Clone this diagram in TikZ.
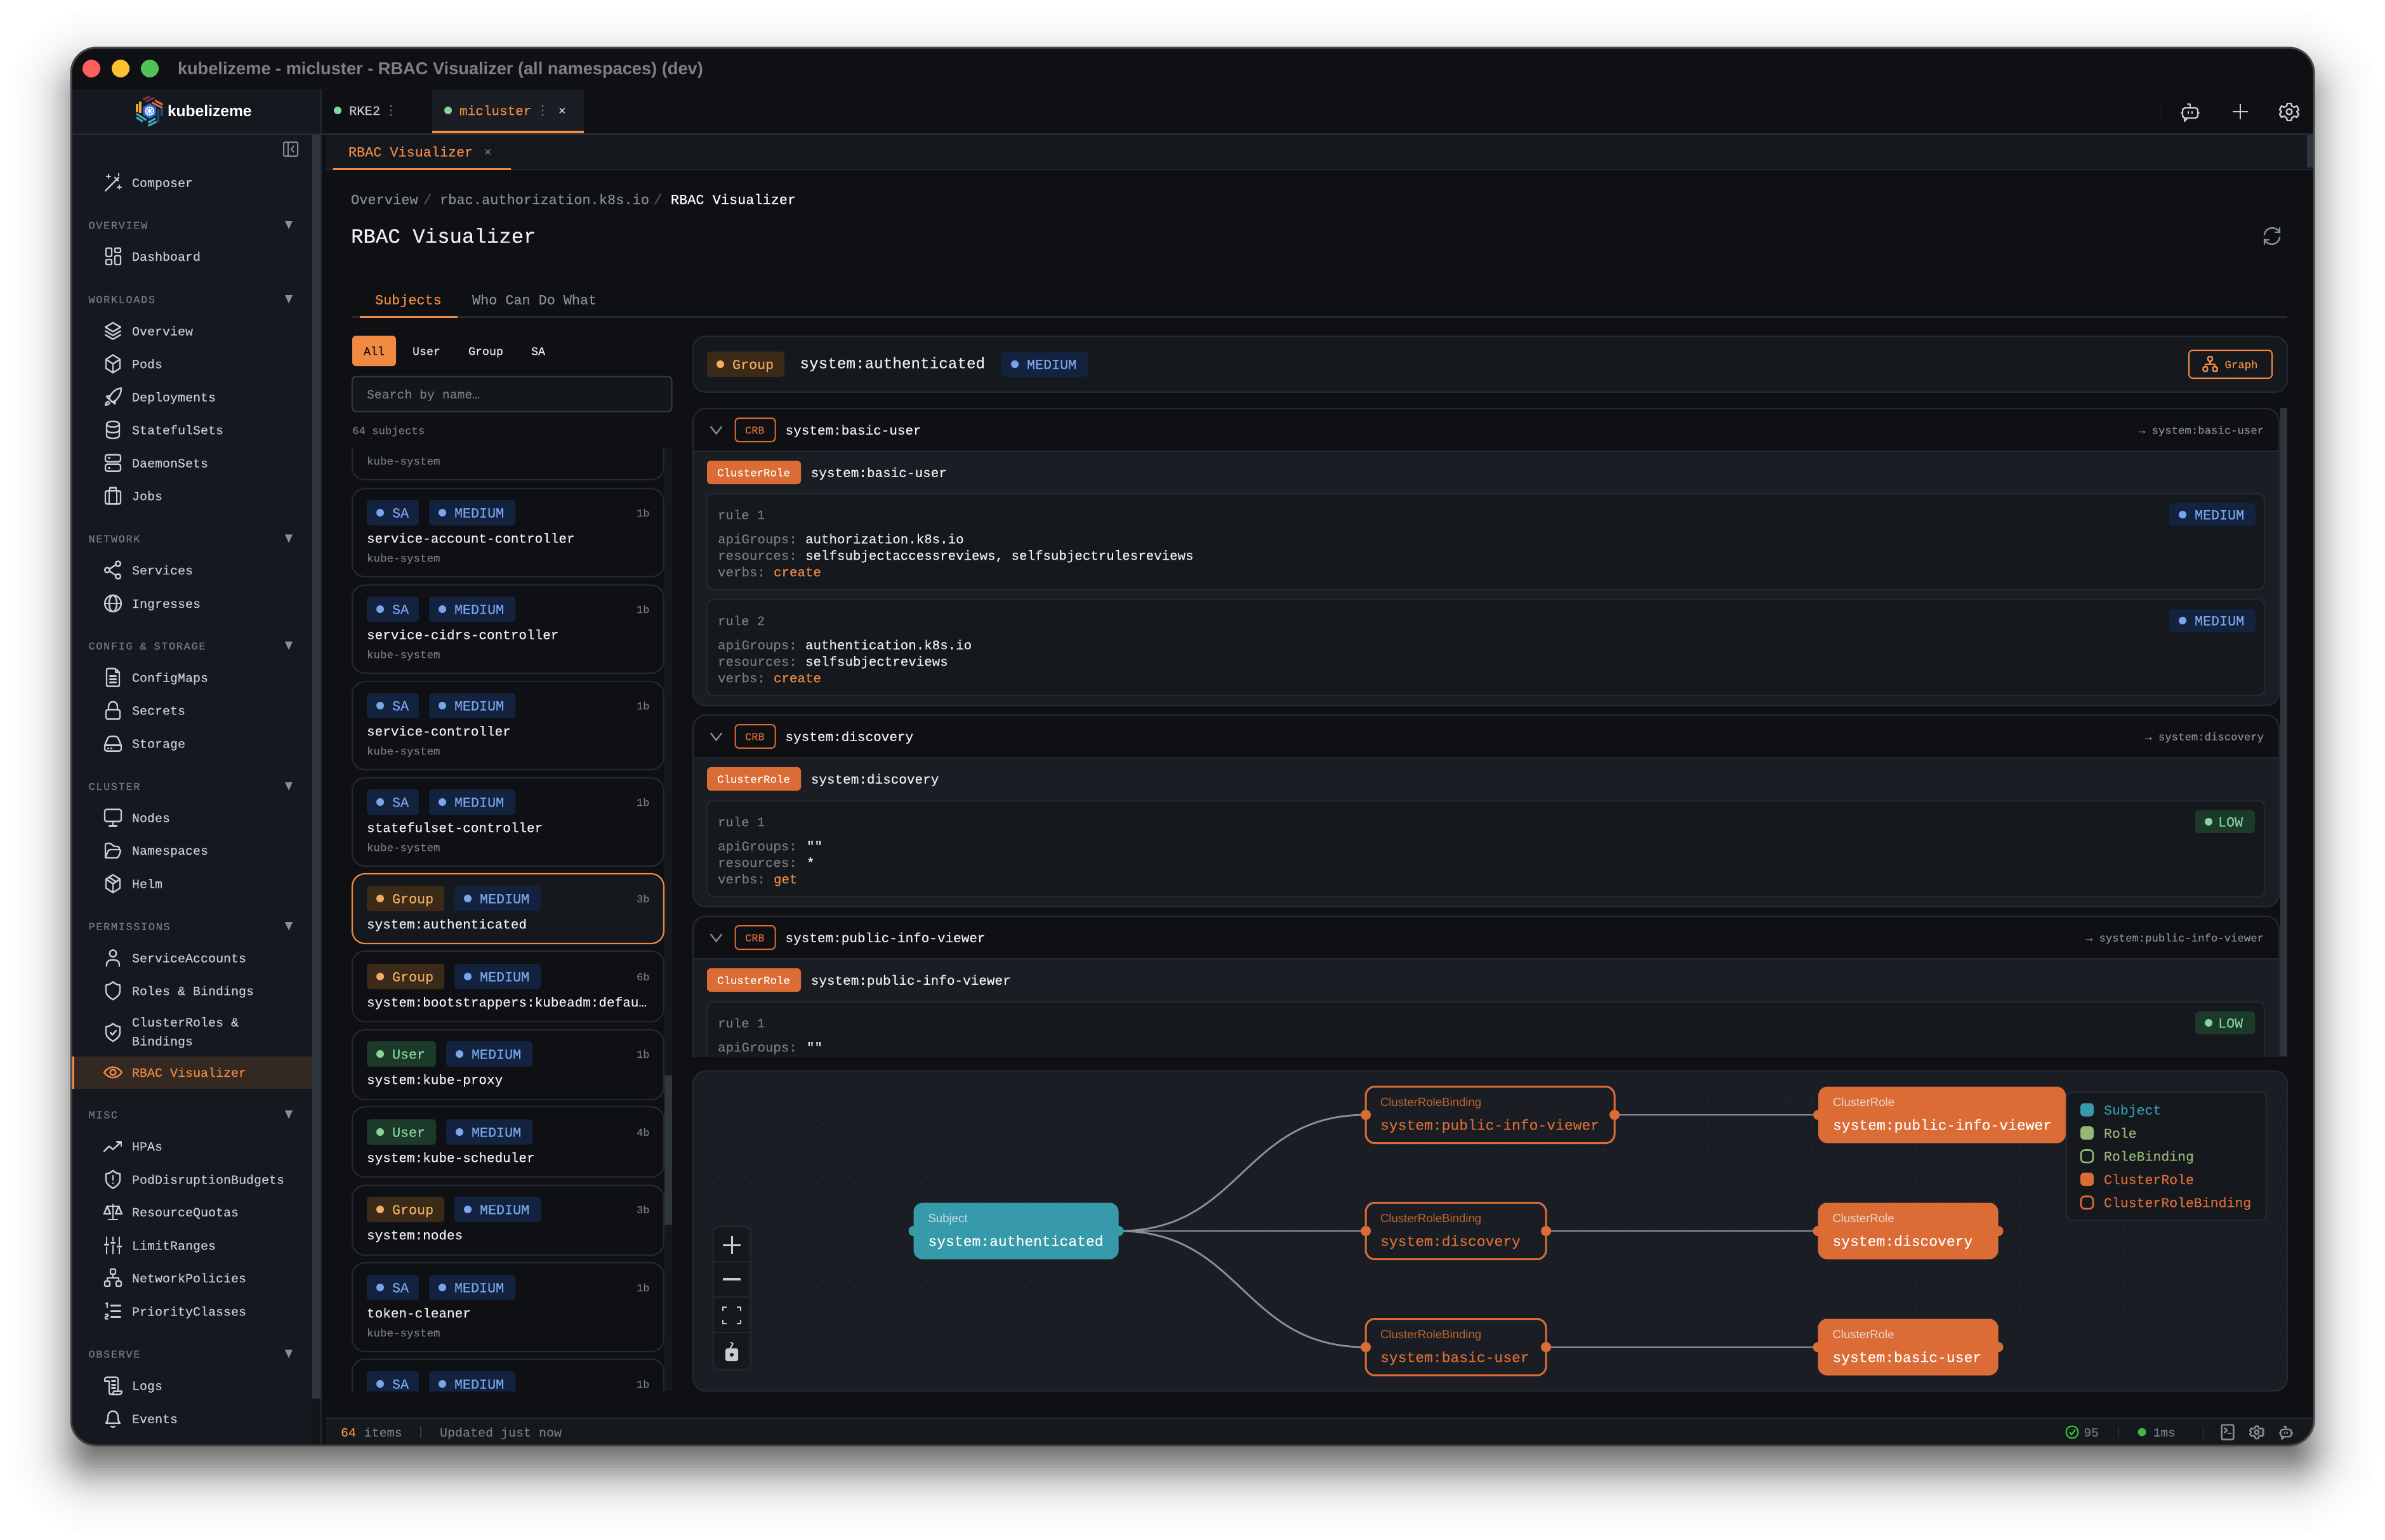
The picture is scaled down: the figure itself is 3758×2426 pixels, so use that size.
\documentclass[tikz,border=0pt]{standalone}
\usepackage{fontspec}
\setmainfont{Liberation Sans}
\newfontfamily\mono[FakeBold=0.07]{Liberation Mono}
\newfontfamily\monoM[FakeBold=0.18]{Liberation Mono}
\newfontfamily\monoS[LetterSpace=9.4,FakeBold=0.15]{Liberation Mono}
\definecolor{bgmain}{HTML}{0E1014}
\definecolor{side}{HTML}{15181E}
\definecolor{panel}{HTML}{15181D}
\definecolor{body}{HTML}{1A1E24}
\definecolor{linec}{HTML}{24282F}
\definecolor{track}{HTML}{2F363D}
\definecolor{txt}{HTML}{C9CDD3}
\definecolor{wht}{HTML}{EEF0F2}
\definecolor{gry}{HTML}{767B83}
\definecolor{gry2}{HTML}{8A8F96}
\definecolor{org}{HTML}{F08A42}
\definecolor{cro}{HTML}{DC6C36}
\definecolor{crl}{HTML}{B8632F}
\definecolor{teal}{HTML}{369AAB}
\definecolor{grn}{HTML}{96B874}
\definecolor{blu}{HTML}{79A5EA}
\definecolor{blubg}{HTML}{13233F}
\definecolor{grpfg}{HTML}{F2AD63}
\definecolor{grpbg}{HTML}{3B2A17}
\definecolor{usrfg}{HTML}{85D4A0}
\definecolor{usrbg}{HTML}{1C3A2A}
\definecolor{edgec}{HTML}{8A8F98}
\newcount\nn
\newcommand\TX[7]{\global\advance\nn by 1\relax
  \pgfmathsetmacro\fz{#5*0.5}\pgfmathsetmacro\bl{#4+0.3*#5+1}%
  \node[anchor=base west,inner sep=0pt,outer sep=0pt,text=#6,font={\fontsize{\fz pt}{\fz pt}\selectfont #1},#2] (tx\the\nn) at (#3,\bl) {#7};}
\newcommand\T[6][]{\TX{\mono}{#1}{#2}{#3}{#4}{#5}{#6}}
\newcommand\TM[6][]{\TX{\monoM}{#1}{#2}{#3}{#4}{#5}{#6}}
\newcommand\RR[6][]{\draw[rounded corners=#6*0.5pt,#1] (#2,#3) rectangle (#4,#5);}
\newcommand\FR[6][]{\fill[rounded corners=#6*0.5pt,#1] (#2,#3) rectangle (#4,#5);}
% pill: [h] x1 x2 cy bg fg text
\newcommand\Pill[8][40]{\pgfmathsetmacro\pa{#4-#1/2}\pgfmathsetmacro\pb{#4+#1/2}%
  \FR[fill=#5]{#2}{\pa}{#3}{\pb}{5}%
  \pgfmathsetmacro\pc{#2+21}\fill[#6] (\pc,#4) circle (6);%
  \pgfmathsetmacro\pd{#2+#7}\TM{\pd}{#4}{21.7}{#6}{#8}}
\newcommand\pSA[3][40]{\pgfmathsetmacro\qq{#2+82}\Pill[#1]{#2}{\qq}{#3}{blubg}{blu}{40}{SA}}
\newcommand\pMED[3][40]{\pgfmathsetmacro\qq{#2+136}\Pill[#1]{#2}{\qq}{#3}{blubg}{blu}{40}{MEDIUM}}
\newcommand\pGRP[3][40]{\pgfmathsetmacro\qq{#2+122}\Pill[#1]{#2}{\qq}{#3}{grpbg}{grpfg}{40}{Group}}
\newcommand\pUSR[3][40]{\pgfmathsetmacro\qq{#2+109}\Pill[#1]{#2}{\qq}{#3}{usrbg}{usrfg}{40}{User}}
\newcommand\pLOW[3][36]{\pgfmathsetmacro\qq{#2+94}\Pill[#1]{#2}{\qq}{#3}{usrbg}{usrfg}{36}{LOW}}
% card: top bottom badgeoffs kind name ns count
\newcommand\Card[7]{\RR[fill=bgmain,draw=linec,line width=1.1pt]{555}{#1}{1046}{#2}{20}%
  \pgfmathsetmacro\cy{#1+#3}\pgfmathsetmacro\cn{#1+#3+40}\pgfmathsetmacro\cs{#1+#3+71}%
  \csname card#4\endcsname{\cy}%
  \T[anchor=base east]{1023.5}{\cy}{17}{gry}{#7}%
  \TM{578}{\cn}{21}{wht}{#5}%
  \if\relax\detokenize{#6}\relax\else\T{578}{\cs}{17.5}{gry}{#6}\fi}
\newcommand\cardSA[1]{\pSA{578}{#1}\pMED{676}{#1}}
\newcommand\cardG[1]{\pGRP{578}{#1}\pMED{716}{#1}}
\newcommand\cardU[1]{\pUSR{578}{#1}\pMED{703}{#1}}
\newcommand\Dots[2]{\pgfmathsetmacro\da{#2-7}\pgfmathsetmacro\db{#2+7}\fill[gry] (#1,\da) circle (1.7) (#1,#2) circle (1.7) (#1,\db) circle (1.7);}
% graph node text
\newcommand\GT[5]{\vbox to 44.5pt{\offinterlineskip\hbox to #1pt{\rule{0pt}{15.3pt}\smash{\color{#2}\fontsize{9.3pt}{9.3pt}\selectfont #3}\hss}\hbox to #1pt{\rule{0pt}{18.7pt}\smash{\color{#4}\fontsize{11.5pt}{11.5pt}\selectfont\monoM #5}\hss}\vss}}
% icons
\tikzset{ic/.style={line width=1.2pt,line cap=round,line join=round},
 edgeg/.style={draw=edgec,line width=1.4pt},
 gnode/.style={rectangle,rounded corners=7pt,minimum height=44.5pt,inner ysep=0pt,inner xsep=11.5pt,outer sep=0pt,anchor=center},
 hd/.style={circle,minimum size=8pt,inner sep=0pt,outer sep=0pt}}
\newcommand\Ic[4][txt]{\begin{scope}[shift={(#3,#4)},ic,color=#1]\csname ico#2\endcsname\end{scope}}
\def\icowand{\draw (-12,13)--(9,-8);\draw (3,-8)--(8,-3);\draw (-7,-13)--(-7,-7) (-10,-10)--(-4,-10);\draw (10,4)--(10,10) (7,7)--(13,7);\draw (9,-14)--(9,-11);}
\def\icodash{\RR{-11}{-13}{-2}{0}{2}\RR{3}{-13}{12}{-6}{2}\RR{-11}{5}{-2}{13}{2}\RR{3}{-1}{12}{13}{2}}
\def\icolayers{\draw (0,-13)--(12,-6)--(0,1)--(-12,-6)--cycle;\draw (-12,0)--(0,7)--(12,0);\draw (-12,6)--(0,13)--(12,6);}
\def\icocube{\draw (0,-14)--(11,-7)--(11,7)--(0,14)--(-11,7)--(-11,-7)--cycle;\draw (-11,-7)--(0,0)--(11,-7);\draw (0,0)--(0,14);}
\def\icorocket{\draw (13,-14) .. controls (3,-13) and (-4,-5) .. (-6,3)--(-1,8) .. controls (6,6) and (13,-3) .. (13,-14)--cycle;\draw (-4,-2)--(-10,-1)--(-7,3);\draw (4,5)--(3,11)--(0,8);\draw (-7,7) .. controls (-11,8) and (-12,11) .. (-12,13) .. controls (-9,13) and (-7,12) .. (-5,9);}
\def\icodb{\draw (0,-9) ellipse (10 and 4.5);\draw (-10,-9)--(-10,9) .. controls (-10,15) and (10,15) .. (10,9)--(10,-9);\draw (-10,0) .. controls (-10,6) and (10,6) .. (10,0);}
\def\icoserver{\RR{-12}{-13}{12}{-2}{3}\RR{-12}{2}{12}{13}{3}\draw (-7,-8)--(-5,-8) (-7,8)--(-5,8);}
\def\icojobs{\RR{-12}{-8}{12}{13}{3}\draw (-6,-8)--(-6,13) (6,-8)--(6,13);\draw (-5,-8)--(-5,-13)--(5,-13)--(5,-8);}
\def\icoshare{\draw (8,-10) circle (4) (-9,0) circle (4) (8,10) circle (4);\draw (-5,-2)--(4,-8) (-5,2)--(4,8);}
\def\icoglobe{\draw (0,0) circle (13);\draw (0,0) ellipse (6 and 13);\draw (-13,0)--(13,0);}
\def\icofile{\draw[rounded corners=1pt] (-10,-14)--(4,-14)--(10,-8)--(10,14)--(-10,14)--cycle;\draw (4,-14)--(4,-8)--(10,-8);\draw (-5,-2)--(5,-2) (-5,3)--(5,3) (-5,8)--(5,8);}
\def\icolock{\RR{-11}{-1}{11}{14}{3}\draw (-7,-1)--(-7,-6) .. controls (-7,-16) and (7,-16) .. (7,-6)--(7,-1);}
\def\icodrive{\draw[rounded corners=1.5pt] (-13,3)--(-7,-11)--(7,-11)--(13,3)--(13,12)--(-13,12)--cycle;\draw (-13,3)--(13,3);\draw (-8,8)--(-7,8) (-3,8)--(-2,8);}
\def\icomon{\RR{-13}{-13}{13}{6}{3}\draw (0,6)--(0,13);\draw (-6,13)--(6,13);}
\def\icofolder{\draw[rounded corners=1.5pt] (-12,12)--(-12,-11)--(-3,-11)--(1,-6)--(10,-6)--(10,-1);\draw[rounded corners=1.5pt] (-12,12)--(8,12)--(13,-1)--(-7,-1)--cycle;}
\def\icopack{\draw (0,-14)--(11,-7)--(11,7)--(0,14)--(-11,7)--(-11,-7)--cycle;\draw (-11,-7)--(0,0)--(11,-7);\draw (0,0)--(0,14);\draw (-6,-10)--(5,-3);}
\def\icouser{\draw (0,-7) circle (5.5);\draw (-10,13)--(-10,10) .. controls (-10,4) and (-4,3) .. (0,3) .. controls (4,3) and (10,4) .. (10,10)--(10,13);}
\def\icoshield{\draw (0,-14) .. controls (4,-10) and (8,-9) .. (11,-9)--(11,1) .. controls (11,7) and (5,11) .. (0,14) .. controls (-5,11) and (-11,7) .. (-11,1)--(-11,-9) .. controls (-8,-9) and (-4,-10) .. (0,-14)--cycle;}
\def\icoshcheck{\icoshield\draw (-4,0)--(-1,4)--(5,-3);}
\def\icoshalert{\icoshield\draw (0,-6)--(0,1);\fill (0,6) circle (1.5);}
\def\icoeye{\draw (-14,0) .. controls (-6,-11) and (6,-11) .. (14,0) .. controls (6,11) and (-6,11) .. (-14,0)--cycle;\draw (0,0) circle (4.5);}
\def\icotrend{\draw (-14,8)--(-6,0)--(0,5)--(13,-7);\draw (6,-7)--(13,-7)--(13,0);}
\def\icoscale{\draw (0,-12)--(0,12);\draw (-7,12)--(7,12);\draw (-10,-9)--(10,-9);\draw (-9,-9)--(-14,3)--(-4,3)--cycle;\draw (9,-9)--(14,3)--(4,3)--cycle;}
\def\icoslid{\draw (-10,-13)--(-10,-3) (-10,3)--(-10,13) (0,-13)--(0,-7) (0,0)--(0,13) (10,-13)--(10,-1) (10,5)--(10,13);\draw (-13,-1)--(-7,-1) (-3,-4)--(3,-4) (7,2)--(13,2);}
\def\iconet{\RR{-4}{-14}{4}{-6}{2}\RR{-13}{5}{-5}{13}{2}\RR{5}{5}{13}{13}{2}\draw (0,-6)--(0,0) (-9,5)--(-9,0)--(9,0)--(9,5);}
\def\icolist{\draw (-3,-9)--(12,-9) (-3,0)--(12,0) (-3,9)--(12,9);\draw (-11,-12)--(-9,-13)--(-9,-6);\draw (-12,5)--(-8,5)--(-8,8)--(-12,9)--(-12,12)--(-8,12);}
\def\icologs{\draw[rounded corners=1.5pt] (-13,-7)--(-13,-13)--(8,-13)--(8,9);\draw (-13,-7)--(-6,-7)--(-6,9) .. controls (-6,14) and (-4,14) .. (-2,14)--(11,14) .. controls (13,14) and (14,11) .. (14,9)--(1,9) .. controls (1,11) and (0,14) .. (-2,14);\draw (-2,-7)--(4,-7) (-2,-1)--(4,-1) (-2,4)--(4,4);}
\def\icobell{\draw (-11,7) .. controls (-8,4) and (-8,0) .. (-8,-3) .. controls (-8,-15) and (8,-15) .. (8,-3) .. controls (8,0) and (8,4) .. (11,7)--cycle;\draw (-3,12) .. controls (-1,14) and (1,14) .. (3,12);}
\def\icobot{\RR{-12}{-6}{12}{10}{4}\draw (0,-6)--(0,-12)--(-4,-12);\draw (-3,0)--(-3,3) (3,0)--(3,3);\draw (-14,2)--(-12,2) (12,2)--(14,2);\draw (-9,10)--(-9,15)--(-4,10);}
\def\icogear{\draw (-3,-13)--(3,-13)--(4,-9)--(8,-7)--(12,-9)--(15,-3)--(12,0)--(15,4)--(12,9)--(8,7)--(4,10)--(3,14)--(-3,14)--(-4,10)--(-8,7)--(-12,9)--(-15,4)--(-12,0)--(-15,-3)--(-12,-9)--(-8,-7)--(-4,-9)--cycle;\draw (0,0) circle (4.5);}
\begin{document}
\begin{tikzpicture}[x=0.5pt,y=-0.5pt]
\useasboundingbox (0,0) rectangle (3758,2426);
\fill[white] (0,0) rectangle (3758,2426);
% shadow
\gdef\prevT{0}
\foreach \dd in {100,95,...,-100}{
  \pgfmathsetmacro\curT{0.62/(1+exp(\dd/22))}
  \pgfmathsetmacro\aa{1-(1-\curT)/(1-\prevT)}
  \pgfmathsetmacro\rad{max(40+\dd,4)}
  \fill[black,opacity=\aa,rounded corners=\rad*0.5pt] ({112-(\dd)},{115-(\dd)}) rectangle ({3646+\dd},{2318+\dd});
  \global\let\prevT\curT
}
% window
\begin{scope}
\clip[rounded corners=20pt] (112,75) rectangle (3646,2278);
\fill[bgmain] (112,75) rectangle (3646,2278);
% sidebar
\fill[side] (112,140) rectangle (505,2278);
\fill[track] (492,213) rectangle (505,2204);
\fill[side!60!bgmain] (492,2204) rectangle (505,2278);
\fill[linec] (505,140) rectangle (507,2278);
% tab bar lines
\fill[linec] (112,210) rectangle (3646,213);
\fill[panel] (513,213) rectangle (3646,266);
\fill[linec] (513,266) rectangle (3646,268);
\fill[body] (681,142) rectangle (920,206);
\fill[org] (681,206) rectangle (920,210);
\fill[org] (525,264.5) rectangle (805,268);
\fill[track] (3635,213) rectangle (3645,264);
% status bar
\fill[panel] (513,2235) rectangle (3646,2278);
\fill[linec] (513,2234) rectangle (3646,2236);
% sidebar highlight
\fill[org!14!side] (112,1665) rectangle (492,1716);
\fill[org] (112,1665) rectangle (117,1716);
\end{scope}
\draw[color=black!72,line width=1.5pt,rounded corners=20pt] (112,75) rectangle (3646,2278);
% traffic
\definecolor{tlr}{HTML}{FF5F57}\definecolor{tly}{HTML}{F9C22E}\definecolor{tlg}{HTML}{4FC35A}
\fill[tlr] (144,108) circle (14);
\fill[tly] (190,108) circle (14);
\fill[tlg] (236,108) circle (14);
\TX{\bfseries}{}{280}{108}{27.2}{gray}{kubelizeme - micluster - RBAC Visualizer (all namespaces) (dev)}
% logo
\definecolor{lgm}{HTML}{7A2F4A}\definecolor{lgo}{HTML}{D96B38}\definecolor{lgn}{HTML}{1F4C80}\definecolor{lgy}{HTML}{E5A52E}\definecolor{lgt}{HTML}{3FA7B5}\definecolor{lgb}{HTML}{2B6DE0}
\begin{scope}[line width=1.6pt]
\draw[lgm] (225,156.7)--(236,152) (229.3,160)--(243.3,154);
\draw[lgo] (244,158.3)--(256.7,165) (239.3,161.7)--(256,170);
\draw[lgn] (249.3,172.3)--(249.3,191.7) (255,172.3)--(255,183.3);
\draw[lgy] (216,164)--(216,176.7) (221,160)--(221,178.3);
\draw[lgt] (215,179.3)--(230.7,189.3) (215,185)--(225,191.7);
\draw[lgt] (233.3,198.3)--(246.7,191.7) (233.3,193.3)--(245,186.7);
\end{scope}
\fill[lgb] (235.7,163)--(246,169)--(246,181)--(235.7,187)--(225.4,181)--(225.4,169)--cycle;
\draw[white,line width=0.7pt] (235.7,175) circle (6.5) (229.2,175)--(242.2,175) (235.7,168.5)--(235.7,181.5) (231,170.4)--(240.4,179.6) (240.4,170.4)--(231,179.6);
\TX{\bfseries}{}{264}{175}{24.6}{white}{kubelizeme}
% tabs
\fill[usrfg] (532,174) circle (6);
\T{550}{174}{20.5}{txt}{RKE2}
\Dots{616}{174}
\fill[usrfg] (706,174) circle (6);
\T{724}{174}{21}{org}{micluster}
\Dots{855}{174}
\T{880}{174}{19}{txt}{×}
% top right
\fill[linec] (3403,158) rectangle (3404,192);
\Ic{bot}{3451}{176}
\draw[txt,line width=1.3pt] (3530,164)--(3530,188) (3518,176)--(3542,176);
\Ic{gear}{3607}{176}
% sec tab
\T{549}{239}{21.8}{org}{RBAC Visualizer}
\T{763}{239}{19}{gry}{×}
% breadcrumb
\T{553}{314}{22}{gry2}{Overview}
\T{667}{314}{22}{gry!70!black}{/}
\T{693}{314}{22}{gry2}{rbac.authorization.k8s.io}
\T{1030}{314}{22}{gry!70!black}{/}
\TX{\monoM}{}{1057}{314}{21.9}{white}{RBAC Visualizer}
\TM{553}{372}{32.4}{wht}{RBAC Visualizer}
\begin{scope}[shift={(3580,372)},line width=1.2pt,draw=gry2,line cap=round]
\draw (-12,-2) .. controls (-11,-14) and (6,-17) .. (12,-6)--(12,-13);
\draw (12,-6)--(5,-6);
\draw (12,2) .. controls (11,14) and (-6,17) .. (-12,6)--(-12,13);
\draw (-12,6)--(-5,6);
\end{scope}
% subject tabs
\T{591}{472}{21.8}{org}{Subjects}
\T{744}{472}{21.8}{gry2}{Who Can Do What}
\fill[linec] (555,498) rectangle (3604,500.5);
\fill[org] (567,497.5) rectangle (721,501);
\FR[fill=org]{555}{529}{624}{577}{6}
\T{573}{553}{18.3}{bgmain}{All}
\T{650}{553}{18.3}{wht}{User}
\T{738}{553}{18.3}{wht}{Group}
\T{837}{553}{18.3}{wht}{SA}
\RR[draw=track,fill=panel!70!bgmain,line width=1.2pt]{555}{593.5}{1058.5}{648.5}{6}
\T{578}{621}{19.8}{gry}{Search by name…}
\T{555}{678}{17.3}{gry}{64 subjects}
% list
\fill[panel] (1047,706) rectangle (1059,2192);
\fill[track] (1047,1695) rectangle (1059,1930);
\begin{scope}
\clip (550,706) rectangle (1047.5,2192);
\RR[fill=bgmain,draw=linec,line width=1.1pt]{555}{620}{1046}{756}{20}
\T{578}{726}{17.5}{gry}{kube-system}
\Card{770}{909}{38}{SA}{service-account-controller}{kube-system}{1b}
\Card{922}{1061}{38}{SA}{service-cidrs-controller}{kube-system}{1b}
\Card{1074}{1213}{38}{SA}{service-controller}{kube-system}{1b}
\Card{1226}{1365}{38}{SA}{statefulset-controller}{kube-system}{1b}
\RR[fill=panel,draw=org,line width=1.1pt]{555}{1377}{1046}{1487}{20}
\cardG{1416}
\T[anchor=base east]{1023.5}{1416}{17}{gry}{3b}
\TM{578}{1456}{21}{wht}{system:authenticated}
\Card{1499}{1610}{40}{G}{system:bootstrappers:kubeadm:defau…}{}{6b}
\Card{1623}{1733}{38}{U}{system:kube-proxy}{}{1b}
\Card{1744}{1855}{40}{U}{system:kube-scheduler}{}{4b}
\Card{1868}{1978}{38}{G}{system:nodes}{}{3b}
\Card{1990}{2130}{39}{SA}{token-cleaner}{kube-system}{1b}
\Card{2142}{2290}{39}{SA}{}{}{1b}
\end{scope}
% detail header
\RR[fill=panel,draw=linec,line width=1.1pt]{1092}{530}{3604}{618}{20}
\pGRP{1114}{574}
\TM{1260.5}{572}{24.3}{wht}{system:authenticated}
\pMED{1578}{574}
\RR[draw=org,line width=1pt]{3449}{552}{3580}{596}{6}
\begin{scope}[shift={(3482.5,574)},ic,color=org,scale=0.85]\iconet\end{scope}
\T{3505.5}{574}{17.3}{org}{Graph}
% accordions track
\fill[track] (3593,643) rectangle (3604,1665);
% accordion macro inline
\newcommand\Acc[5]{%
 \RR[fill=bgmain]{1092}{#1}{3591}{#3}{20}%
 \begin{scope}\clip[rounded corners=10pt] (1092,#1) rectangle (3591,#3);
 \fill[body] (1092,#2) rectangle (3591,#3);
 \fill[linec] (1092,#2) rectangle (3591,{#2+2});
 \end{scope}%
 \RR[draw=linec,line width=1.1pt]{1092}{#1}{3591}{#3}{20}%
 \pgfmathsetmacro\ay{#1+33.5}\pgfmathsetmacro\ca{\ay-18.5}\pgfmathsetmacro\cb{\ay+18.5}%
 \pgfmathsetmacro\va{\ay-5}\pgfmathsetmacro\vb{\ay+6}%
 \draw[gry2,line width=1.1pt,line cap=round] (1120,\va)--(1128.5,\vb)--(1137,\va);%
 \RR[draw=cro,line width=1pt]{1158.5}{\ca}{1221.5}{\cb}{6}%
 \T{1174}{\ay}{17}{cro}{CRB}%
 \TM{1237.5}{\ay}{21}{wht}{#4}%
 \T[anchor=base east]{3567}{\ay}{17.3}{gry2}{→ #4}%
 \pgfmathsetmacro\cc{#2+16}\pgfmathsetmacro\cd{#2+53}\pgfmathsetmacro\ce{#2+34.5}%
 \FR[fill=cro]{1114}{\cc}{1262}{\cd}{6}%
 \TX{\monoM}{}{1130}{\ce}{17.4}{white}{ClusterRole}%
 \TM{1277.7}{\ce}{21}{wht}{#4}}
% rule box: top bot ruley name
\newcommand\Rule[4]{\RR[fill=panel,draw=linec,line width=1.1pt]{1114}{#1}{3568}{#2}{10}%
 \T{1131}{#3}{20.6}{gry}{#4}}
\newcommand\KV[4]{\T{1131}{#1}{20.8}{gry}{#2}\TM{#3}{#1}{20.8}{wht}{#4}}
\Acc{644}{710}{1112}{system:basic-user}{}
\Rule{778}{929}{811}{rule 1}
\pMED[36]{3418}{811}
\KV{849}{apiGroups:}{1269}{authorization.k8s.io}
\KV{875}{resources:}{1269}{selfsubjectaccessreviews, selfsubjectrulesreviews}
\T{1131}{901}{20.8}{gry}{verbs:}\TM{1219}{901}{20.8}{org}{create}
\Rule{945}{1096}{978}{rule 2}
\pMED[36]{3418}{978}
\KV{1016}{apiGroups:}{1269}{authentication.k8s.io}
\KV{1042}{resources:}{1269}{selfsubjectreviews}
\T{1131}{1068}{20.8}{gry}{verbs:}\TM{1219}{1068}{20.8}{org}{create}
\Acc{1127}{1193}{1429}{system:discovery}{}
\Rule{1262}{1413}{1295}{rule 1}
\pLOW{3459}{1295}
\KV{1333}{apiGroups:}{1271}{""}
\KV{1359}{resources:}{1271}{*}
\T{1131}{1385}{20.8}{gry}{verbs:}\TM{1219}{1385}{20.8}{org}{get}
\begin{scope}
\clip (1085,1440) rectangle (3592,1665);
\Acc{1444}{1510}{1800}{system:public-info-viewer}{}
\Rule{1579}{1760}{1612}{rule 1}
\pLOW{3459}{1612}
\KV{1650}{apiGroups:}{1271}{""}
\end{scope}
% graph panel
\RR[fill=body,draw=linec,line width=1.1pt]{1092}{1688}{3604}{2192}{20}
\fill[linec!90!white] \foreach \gx in {1133,1174,...,3600}{\foreach \gy in {1731,1772,...,2180}{(\gx,\gy) circle (1.2)}};
% zoom controls
\RR[fill=panel,draw=linec,line width=1.1pt]{1124}{1933}{1182.5}{2159}{10}
\fill[linec] (1124,1987.5) rectangle (1182.5,1989.5) (1124,2043) rectangle (1182.5,2045) (1124,2099) rectangle (1182.5,2101);
\draw[txt,line width=1.5pt] (1153,1948)--(1153,1976) (1139,1962)--(1167,1962);
\draw[txt,line width=1.6pt] (1139,2016)--(1167,2016);
\begin{scope}[shift={(1153,2073)},txt,line width=1.4pt]
\draw (-14,-7)--(-14,-13)--(-8,-13) (8,-13)--(14,-13)--(14,-7) (14,7)--(14,13)--(8,13) (-8,13)--(-14,13)--(-14,7);
\end{scope}
\FR[fill=txt]{1143}{2125}{1163}{2145}{3}
\fill[panel] (1153,2135) circle (3);
\draw[txt,line width=1pt] (1150,2125) .. controls (1156,2118) and (1156,2116) .. (1151,2116);
% graph nodes
\node[gnode,fill=teal,minimum width=161pt] (subj) at (1601,1940) {\GT{138.5}{wht!80!teal}{Subject}{white}{system:authenticated}};
\node[gnode,draw=cro,line width=1.5pt,fill=body,minimum width=196pt] (crb1) at (2348,1757) {\GT{173}{crl}{ClusterRoleBinding}{cro}{system:public-info-viewer}};
\node[gnode,draw=cro,line width=1.5pt,fill=body,minimum width=142pt] (crb2) at (2294,1940) {\GT{119}{crl}{ClusterRoleBinding}{cro}{system:discovery}};
\node[gnode,draw=cro,line width=1.5pt,fill=body,minimum width=142pt] (crb3) at (2294,2123) {\GT{119}{crl}{ClusterRoleBinding}{cro}{system:basic-user}};
\node[gnode,fill=cro,minimum width=195pt] (cr1) at (3060,1757) {\GT{172}{wht!80!cro}{ClusterRole}{white}{system:public-info-viewer}};
\node[gnode,fill=cro,minimum width=142pt] (cr2) at (3006.5,1940) {\GT{119}{wht!80!cro}{ClusterRole}{white}{system:discovery}};
\node[gnode,fill=cro,minimum width=142pt] (cr3) at (3006.5,2123) {\GT{119}{wht!80!cro}{ClusterRole}{white}{system:basic-user}};
\draw[edgeg] (subj.east) .. controls +(195,0) and +(-195,0) .. (crb1.west);
\draw[edgeg] (subj.east) -- (crb2.west);
\draw[edgeg] (subj.east) .. controls +(195,0) and +(-195,0) .. (crb3.west);
\draw[edgeg] (crb1.east) -- (cr1.west);
\draw[edgeg] (crb2.east) -- (cr2.west);
\draw[edgeg] (crb3.east) -- (cr3.west);
\node[hd,fill=teal] (hs1) at (subj.west) {};
\node[hd,fill=teal] (hs2) at (subj.east) {};
\node[hd,fill=cro] (hb1l) at (crb1.west) {};
\node[hd,fill=cro] (hb1r) at (crb1.east) {};
\node[hd,fill=cro] (hb2l) at (crb2.west) {};
\node[hd,fill=cro] (hb2r) at (crb2.east) {};
\node[hd,fill=cro] (hb3l) at (crb3.west) {};
\node[hd,fill=cro] (hb3r) at (crb3.east) {};
\node[hd,fill=cro] (hc1l) at (cr1.west) {};
\node[hd,fill=cro] (hc2l) at (cr2.west) {};
\node[hd,fill=cro] (hc2r) at (cr2.east) {};
\node[hd,fill=cro] (hc3l) at (cr3.west) {};
\node[hd,fill=cro] (hc3r) at (cr3.east) {};
% legend
\RR[fill=panel,draw=linec,line width=1.1pt]{3256}{1721}{3571}{1923}{10}
\FR[fill=teal]{3278}{1738.5}{3299}{1759.5}{6}
\T{3315}{1749}{21.5}{teal}{Subject}
\FR[fill=grn]{3278}{1775}{3299}{1796}{6}
\T{3315}{1785.6}{21.5}{grn}{Role}
\RR[draw=grn,line width=1.3pt]{3279}{1812.5}{3298}{1832}{6}
\T{3315}{1822}{21.5}{grn}{RoleBinding}
\FR[fill=cro]{3278}{1848}{3299}{1869}{6}
\T{3315}{1858.6}{21.5}{cro}{ClusterRole}
\RR[draw=cro,line width=1.3pt]{3279}{1885.5}{3298}{1905}{6}
\T{3315}{1895}{21.5}{cro}{ClusterRoleBinding}
% status
\TM{537}{2257}{20}{org}{64}
\T{573.6}{2257}{20}{gry}{items}
\fill[gry!50!black] (662,2248) rectangle (663.5,2266);
\T{693}{2257}{20}{gry}{Updated just now}
\draw[green!60!gray,line width=1pt] (3265,2257) circle (9.5);
\draw[green!60!gray,line width=1pt] (3261,2257)--(3264,2261)--(3270,2253);
\T{3283.5}{2257}{19.5}{gry}{95}
\fill[gry!50!black] (3337.5,2248) rectangle (3339,2266);
\fill[green!60!white!70!black] (3375,2257) circle (6.5);
\T{3392.6}{2257}{19.5}{gry}{1ms}
\fill[gry!50!black] (3471.5,2248) rectangle (3473,2266);
\begin{scope}[shift={(3510,2257)},scale=0.72,ic,color=gry2]\RR{-13}{-16}{13}{16}{2}\draw (-7,-9)--(-1,-4)--(-7,1);\draw (1,3)--(7,3);\end{scope}
\begin{scope}[shift={(3556,2257)},scale=0.72,ic,color=gry2]\icogear\end{scope}
\begin{scope}[shift={(3602,2257)},scale=0.72,ic,color=gry2]\icobot\end{scope}
% sidebar
\begin{scope}[shift={(458,235)},gry2,line width=1pt]
\draw[rounded corners=1pt] (-11,-11) rectangle (11,11);\draw (-4,-11)--(-4,11);\draw (5,-5)--(1,0)--(5,5);
\end{scope}
\foreach \ii/\yy/\tt in {wand/287.7/Composer,dash/404/Dashboard,layers/521.6/Overview,cube/573.4/Pods,rocket/625.6/Deployments,db/677.4/StatefulSets,server/729.6/DaemonSets,jobs/781.4/Jobs,share/898.4/Services,globe/951/Ingresses,file/1067.6/ConfigMaps,lock/1119.4/Secrets,drive/1171.6/Storage,mon/1288.6/Nodes,folder/1340/Namespaces,pack/1392.6/Helm,user/1509.6/ServiceAccounts,shield/1561.3/Roles \& Bindings,trend/1806.4/HPAs,shalert/1858.7/PodDisruptionBudgets,scale/1910/ResourceQuotas,slid/1962.6/LimitRanges,net/2014/NetworkPolicies,list/2066.5/PriorityClasses,logs/2183.6/Logs,bell/2235.8/Events}{
  \Ic{\ii}{178}{\yy}
  \T{208}{\yy}{20}{txt}{\tt}
}
\Ic{shcheck}{178}{1627}
\T{208}{1610.7}{20}{txt}{ClusterRoles \&}
\T{208}{1640.5}{20}{txt}{Bindings}
\Ic[org]{eye}{178}{1690}
\T{208}{1690}{20}{org}{RBAC Visualizer}
\foreach \yy/\tt in {354.6/OVERVIEW,471.6/WORKLOADS,848.8/NETWORK,1017.6/CONFIG \& STORAGE,1239/CLUSTER,1459.7/PERMISSIONS,1756.5/MISC,2133.6/OBSERVE}{
  \TX{\monoS}{}{139.5}{\yy}{17}{gry}{\tt}
  \fill[gry2] (449,{\yy-6.5}) -- (461,{\yy-6.5}) -- (455,{\yy+6.5}) -- cycle;
}
\end{tikzpicture}
\end{document}
